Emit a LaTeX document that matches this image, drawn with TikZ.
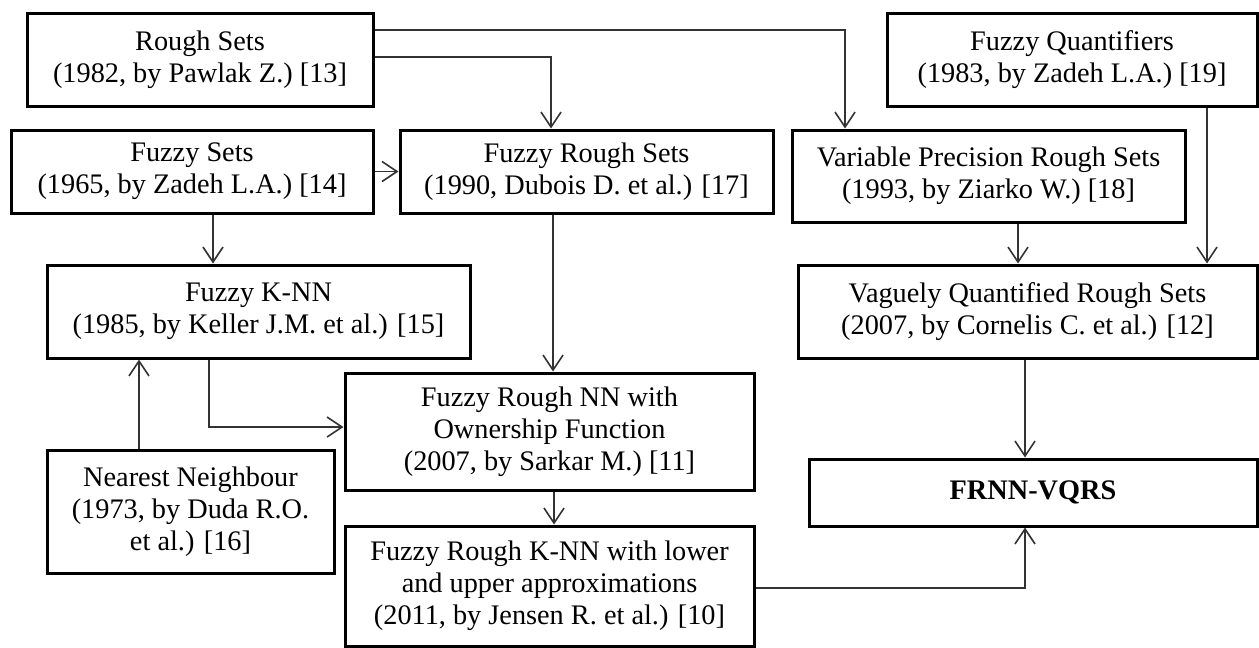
\documentclass[tikz,border=0pt]{standalone}
\usepackage{fontspec}
\setmainfont{Liberation Serif}
\usetikzlibrary{arrows.meta,positioning}

\begin{document}
\begin{tikzpicture}[
    x=1pt, y=-1pt,
    box/.style={rectangle, draw, line width=3pt, align=center, inner sep=0pt, font=\fontsize{28.3}{32}\selectfont},
    arrow/.style={-{Straight Barb[length=15pt,width=20pt]}, line width=1.6pt, draw=black!80}
]
    \useasboundingbox (0,0) rectangle (1259,648);

    % 方框节点
    \node[box, minimum width=346pt, minimum height=93pt] (rough) at (200, 59.5) {Rough Sets\\(1982, by Pawlak Z.) [13]};
    \node[box, minimum width=370pt, minimum height=93pt] (quant) at (1072, 59.5) {Fuzzy Quantifiers\\(1983, by Zadeh L.A.) [19]};
    \node[box, minimum width=362pt, minimum height=83pt] (fuzzy) at (192, 171.5) {Fuzzy Sets\\(1965, by Zadeh L.A.) [14]};
    \node[box, minimum width=373pt, minimum height=83pt] (frs) at (586.5, 171.5) {Fuzzy Rough Sets\\(1990, Dubois D. et al.) [17]};
    \node[box, minimum width=393pt, minimum height=92pt] (vprs) at (988.5, 176) {Variable Precision Rough Sets\\(1993, by Ziarko W.) [18]};
    \node[box, minimum width=423pt, minimum height=93pt] (fknn) at (258.5, 311.5) {Fuzzy K-NN\\(1985, by Keller J.M. et al.) [15]};
    \node[box, minimum width=459pt, minimum height=93pt] (vqrs) at (1027.5, 311.5) {Vaguely Quantified Rough Sets\\(2007, by Cornelis C. et al.) [12]};
    \node[box, minimum width=287pt, minimum height=123pt] (nn) at (190.5, 511.5) {Nearest Neighbour\\(1973, by Duda R.O.\\et al.) [16]};
    \node[box, minimum width=409pt, minimum height=117pt] (frnn) at (549.5, 431.5) {Fuzzy Rough NN with\\Ownership Function\\(2007, by Sarkar M.) [11]};
    \node[box, minimum width=409pt, minimum height=120pt] (jensen) at (549.5, 586) {Fuzzy Rough K-NN with lower\\and upper approximations\\(2011, by Jensen R. et al.) [10]};
    \node[box, minimum width=448pt, minimum height=67pt] (final) at (1033, 492.5) {\textbf{FRNN-VQRS}};

    % 连接箭头
    \draw[arrow] ([yshift=2.5pt]rough.east) -| ([xshift=-35.5pt]frs.north);
    \draw[arrow] ([yshift=29.5pt]rough.east) -| ([xshift=-143.5pt]vprs.north);
    \draw[arrow] (fuzzy) -- (frs);
    \draw[arrow] ([xshift=21pt]fuzzy.south) -- ([xshift=21pt]fuzzy.south |- fknn.north);
    \draw[arrow] ([xshift=-51.5pt]nn.north) -- ([xshift=-51.5pt]nn.north |- fknn.south);
    \draw[arrow] ([xshift=-49.5pt]fknn.south) |- ([yshift=4.5pt]frnn.west);
    \draw[arrow] ([xshift=-33.5pt]frs.south) -- ([xshift=-33.5pt]frs.south |- frnn.north);
    \draw[arrow] ([xshift=4.5pt]frnn.south) -- ([xshift=4.5pt]jensen.north);
    \draw[arrow] ([xshift=29.5pt]vprs.south) -- ([xshift=29.5pt]vprs.south |- vqrs.north);
    \draw[arrow] ([xshift=135pt]quant.south) -- ([xshift=135pt]quant.south |- vqrs.north);
    \draw[arrow] ([xshift=-2.5pt]vqrs.south) -- ([xshift=-8pt]final.north);
    \draw[arrow] ([yshift=-2pt]jensen.east) -| ([xshift=-8pt]final.south);
\end{tikzpicture}
\end{document}
